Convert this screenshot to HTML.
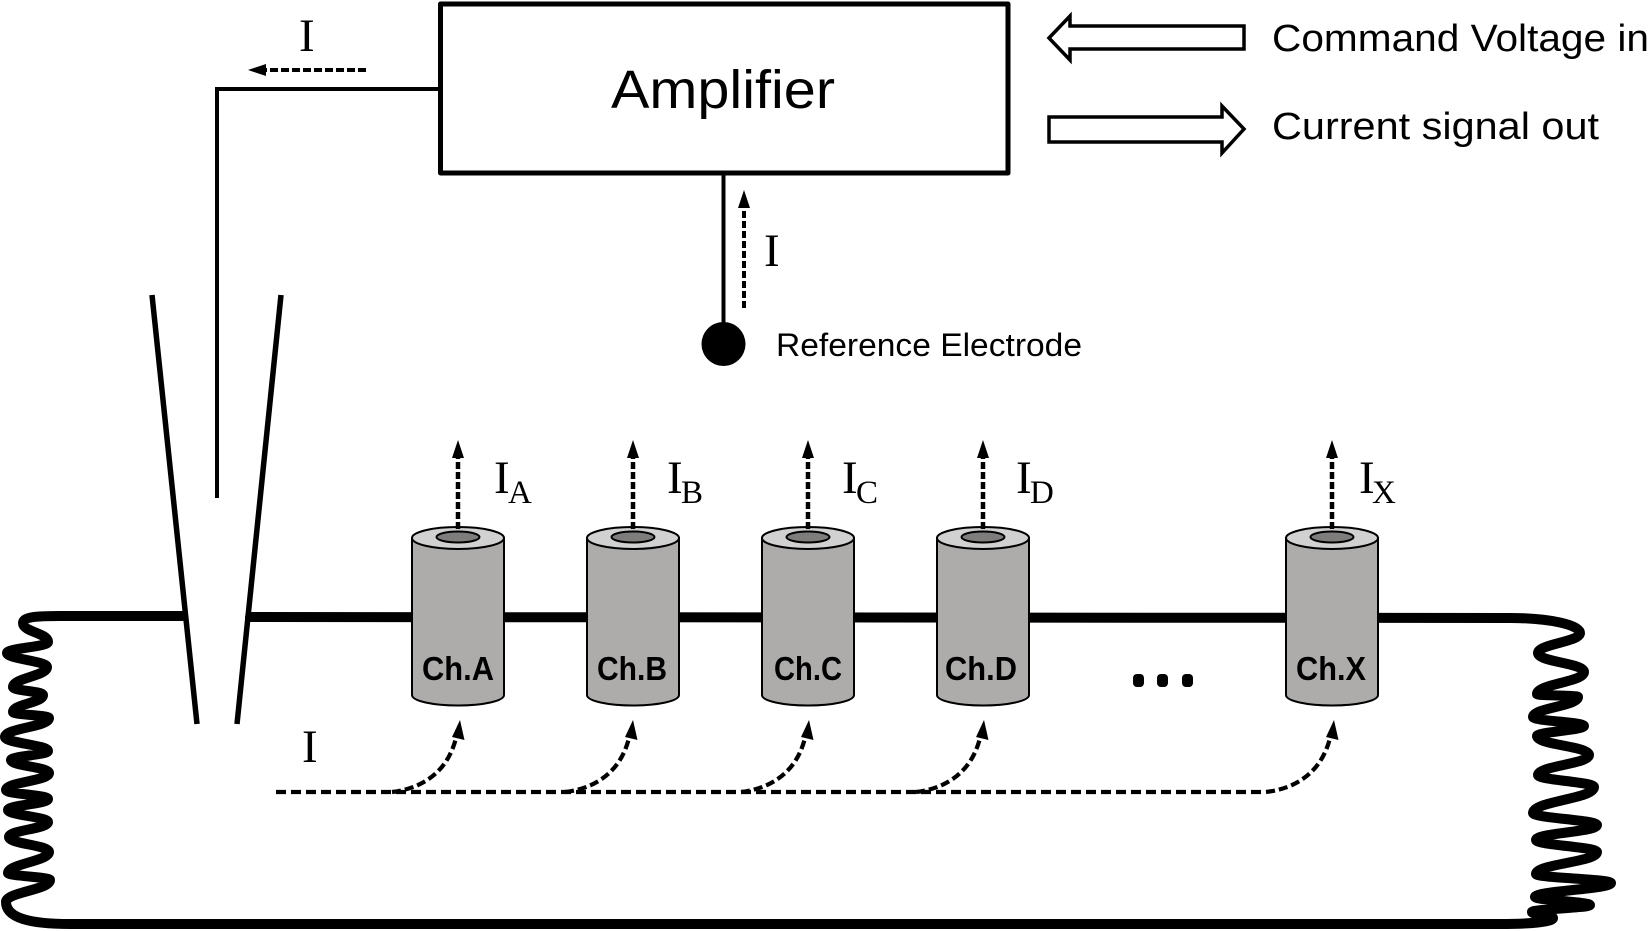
<!DOCTYPE html>
<html>
<head>
<meta charset="utf-8">
<style>
html,body{margin:0;padding:0;background:#fff;width:1650px;height:931px;overflow:hidden}
svg{display:block}
.sans{font-family:"Liberation Sans",sans-serif;fill:#000}
.serif{font-family:"Liberation Serif",serif;fill:#000}
.ch{font-family:"Liberation Sans",sans-serif;font-weight:bold;font-size:33px;fill:#000}
.big{font-size:47px}
.sub{font-size:33px}
</style>
</head>
<body>
<svg width="1650" height="931" viewBox="0 0 1650 931" xmlns="http://www.w3.org/2000/svg">
<rect width="1650" height="931" fill="#fff"/>

<!-- outer coil wire -->
<path fill="none" stroke="#000" stroke-width="10" stroke-linecap="round" stroke-linejoin="round"
 d="M183,616 L60,616 C35,616 23,617 23,623 C23,632 48,633 48,642 C48,647 7,648 7,653 C7,659 47,661 47,667 C47,676 13,678 13,687 C13,691 43,691 43,695 C43,703 13,704 13,712 C13,715 49,715 49,718 C49,727 5,728 5,737 C5,743 48,745 48,751 C48,755 11,756 11,760 C11,766 49,767 49,773 C49,781 6,782 6,790 C6,794 48,795 48,799 C48,804 8,805 8,810 C8,815 48,817 48,822 C48,829 9,830 9,837 C9,844 49,845 49,852 C49,861 8,864 8,873 C8,876 50,877 50,880 C50,890 6,892 6,902 C6,918 30,924 70,924 L1500,924 C1530,924 1553,922 1553,918 C1553,915 1532,915 1532,912 C1532,909 1590,908 1590,905 C1590,902 1535,900 1535,897 C1535,891 1611,889 1611,883 C1611,879 1536,878 1536,874 C1536,864 1597,862 1597,852 C1597,847 1536,845 1536,840 C1536,833 1597,832 1597,825 C1597,820 1533,818 1533,813 C1533,801 1594,799 1594,787 C1594,782 1538,780 1538,775 C1538,766 1589,764 1589,755 C1589,746 1537,745 1537,736 C1537,732 1584,730 1584,726 C1584,722 1533,721 1533,717 C1533,708 1578,706 1578,697 C1578,695 1537,696 1537,694 C1537,684 1584,682 1584,672 C1584,663 1538,662 1538,653 C1538,644 1580,642 1580,633 C1580,625 1550,618 1510,618 L250,617"/>

<!-- pipette -->
<line x1="152" y1="295" x2="197" y2="724" stroke="#000" stroke-width="5.5"/>
<line x1="281" y1="295" x2="237" y2="724" stroke="#000" stroke-width="5.5"/>

<!-- amplifier -->
<rect x="440.5" y="4" width="567.5" height="169" fill="#fff" stroke="#000" stroke-width="5" stroke-linejoin="round"/>
<text class="sans" x="611" y="108" font-size="54" textLength="224" lengthAdjust="spacingAndGlyphs">Amplifier</text>

<!-- pipette wire -->
<path d="M439,89 H217 V498" fill="none" stroke="#000" stroke-width="4"/>
<line x1="366" y1="70" x2="262" y2="70" stroke="#000" stroke-width="4" stroke-dasharray="8 3"/>
<polygon points="248,70 266,64 266,76" fill="#000"/>
<text class="serif big" x="299" y="51">I</text>

<!-- reference electrode -->
<line x1="723.5" y1="173" x2="723.5" y2="330" stroke="#000" stroke-width="4"/>
<circle cx="723.5" cy="344" r="22" fill="#000"/>
<line x1="744" y1="308" x2="744" y2="206" stroke="#000" stroke-width="4" stroke-dasharray="7 3"/>
<polygon points="744,190 738,208 750,208" fill="#000"/>
<text class="serif big" x="764" y="266">I</text>
<text class="sans" x="776" y="356" font-size="32" textLength="306" lengthAdjust="spacingAndGlyphs">Reference Electrode</text>

<!-- command/current arrows -->
<polygon points="1049,38 1070,16 1070,26 1244,26 1244,49 1070,49 1070,60" fill="#fff" stroke="#000" stroke-width="3.5"/>
<polygon points="1049,117 1222,117 1222,106 1244,129 1222,153 1222,142 1049,142" fill="#fff" stroke="#000" stroke-width="3.5"/>
<text class="sans" x="1272" y="51" font-size="38" textLength="377" lengthAdjust="spacingAndGlyphs">Command Voltage in</text>
<text class="sans" x="1272" y="139" font-size="38" textLength="327" lengthAdjust="spacingAndGlyphs">Current signal out</text>

<!-- channels -->
<defs>
<g id="cyl">
<path d="M-46,538 V695 C-46,701 -25,705.5 0,705.5 C25,705.5 46,701 46,695 V538 Z" fill="#aeabab" stroke="#000" stroke-width="2"/>
<ellipse cx="0" cy="538" rx="46" ry="11" fill="#d2d1d1" stroke="#000" stroke-width="2"/>
<ellipse cx="0" cy="537" rx="21.5" ry="5.5" fill="#7f7c7c" stroke="#000" stroke-width="2"/>
<line x1="0" y1="529" x2="0" y2="456" stroke="#000" stroke-width="4.5" stroke-dasharray="7 3"/>
<polygon points="0,440 -6,458 6,458" fill="#000"/>
</g>
<g id="curve">
<path d="M392,792 C425,788 448,770 456,738" fill="none" stroke="#000" stroke-width="4.2" stroke-dasharray="9 4"/>
<polygon points="460,720 452,737 464.5,740" fill="#000"/>
</g>
</defs>
<use href="#cyl" transform="translate(458,0)"/>
<use href="#cyl" transform="translate(633,0)"/>
<use href="#cyl" transform="translate(808,0)"/>
<use href="#cyl" transform="translate(983,0)"/>
<use href="#cyl" transform="translate(1332,0)"/>

<text class="ch" x="422" y="680" textLength="72" lengthAdjust="spacingAndGlyphs">Ch.A</text>
<text class="ch" x="597" y="680" textLength="70" lengthAdjust="spacingAndGlyphs">Ch.B</text>
<text class="ch" x="774" y="680" textLength="68" lengthAdjust="spacingAndGlyphs">Ch.C</text>
<text class="ch" x="945" y="680" textLength="72" lengthAdjust="spacingAndGlyphs">Ch.D</text>
<text class="ch" x="1296" y="680" textLength="70" lengthAdjust="spacingAndGlyphs">Ch.X</text>

<!-- current labels -->
<text class="serif big" x="494" y="493">I</text><text class="serif sub" x="508" y="503">A</text>
<text class="serif big" x="667" y="493">I</text><text class="serif sub" x="681" y="503">B</text>
<text class="serif big" x="842" y="493">I</text><text class="serif sub" x="856" y="503">C</text>
<text class="serif big" x="1016" y="493">I</text><text class="serif sub" x="1030" y="503">D</text>
<text class="serif big" x="1359" y="493">I</text><text class="serif sub" x="1372" y="503">X</text>

<!-- ellipsis -->
<rect x="1133" y="674" width="11" height="13" rx="4" fill="#000"/>
<rect x="1157" y="674" width="11" height="13" rx="4" fill="#000"/>
<rect x="1182" y="674" width="11" height="13" rx="4" fill="#000"/>

<!-- bottom current path -->
<text class="serif big" x="302" y="762">I</text>
<line x1="276" y1="792" x2="1263" y2="792" stroke="#000" stroke-width="4.2" stroke-dasharray="10 5"/>
<use href="#curve"/>
<use href="#curve" transform="translate(173,0)"/>
<use href="#curve" transform="translate(349,0)"/>
<use href="#curve" transform="translate(524,0)"/>
<use href="#curve" transform="translate(874,0)"/>
</svg>
</body>
</html>
